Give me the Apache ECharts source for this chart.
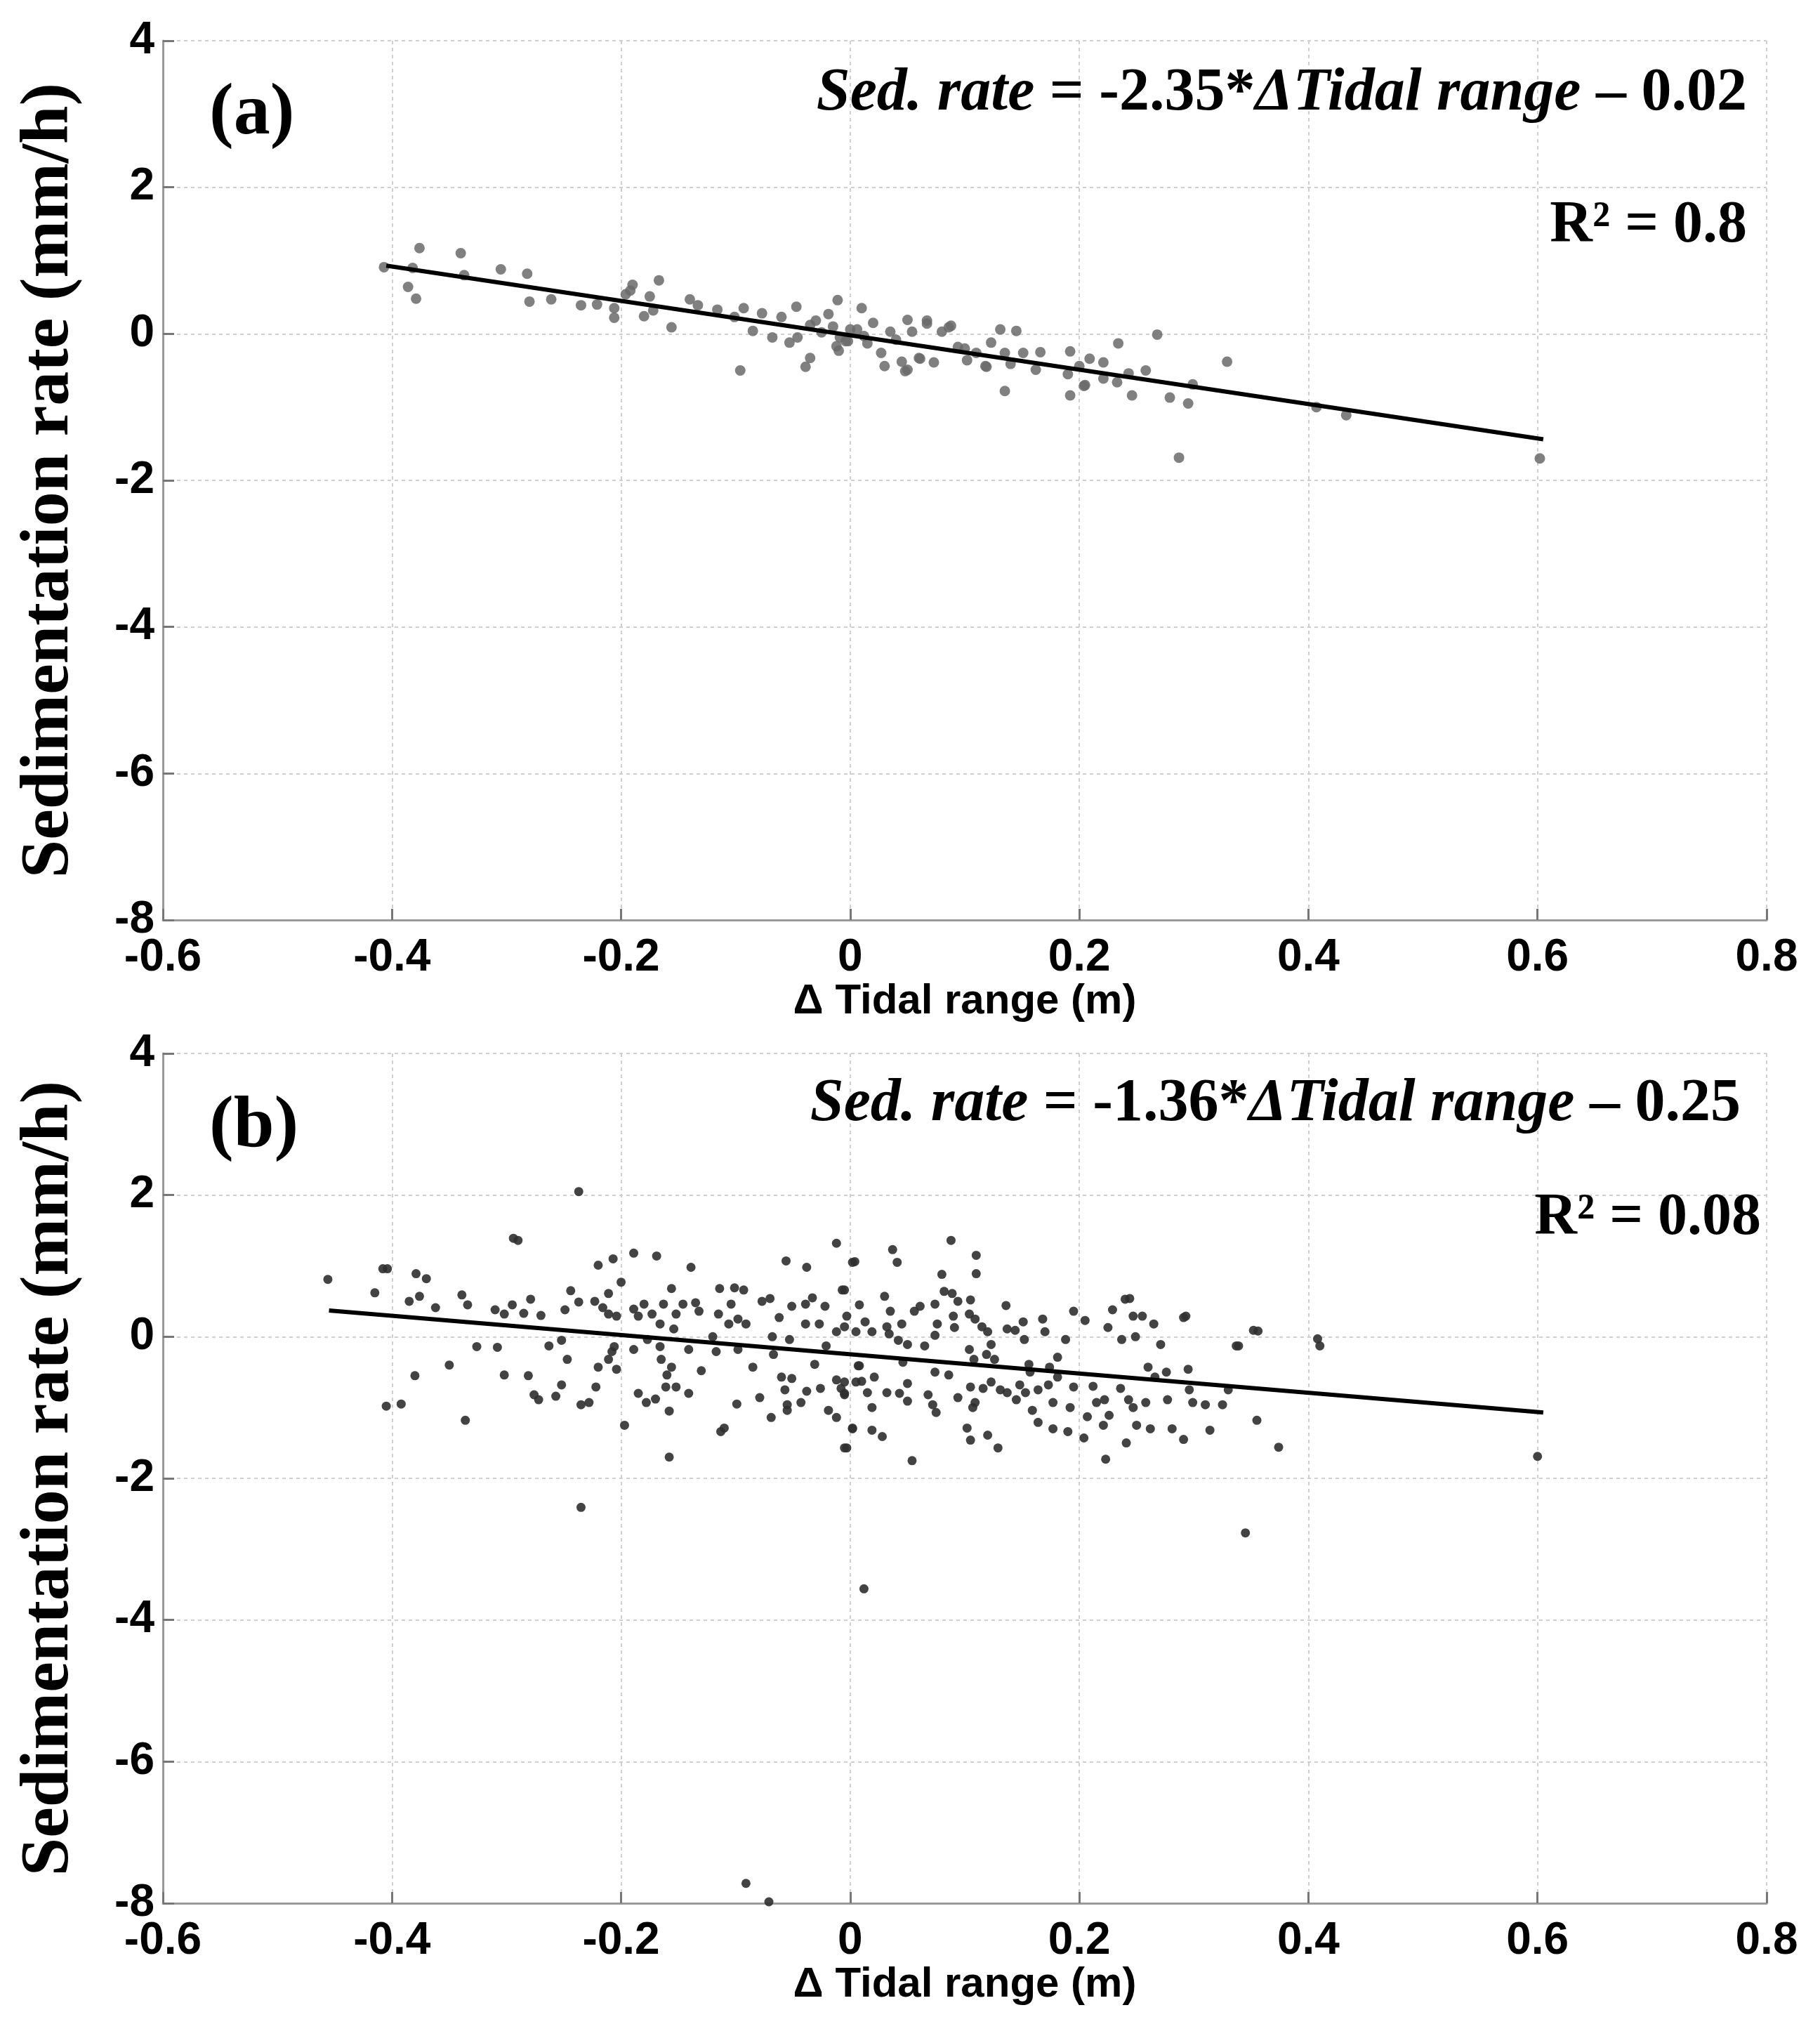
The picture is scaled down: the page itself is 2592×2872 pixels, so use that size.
<!DOCTYPE html>
<html>
<head>
<meta charset="utf-8">
<script src="https://cdn.jsdelivr.net/npm/echarts@6/dist/echarts.min.js"></script>
<style>
  html, body { margin: 0; padding: 0; background: #fff; }
  #chart { width: 2592px; height: 2872px; }
</style>
</head>
<body>
<div id="chart"></div>
<script>
// panel (a), [delta tidal range (m), sed. rate (mm/h)]
var pointsA = [
  [-0.407, 0.91], [-0.382, 0.90], [-0.376, 1.17], [-0.386, 0.64], [-0.379, 0.48],
  [-0.340, 1.10], [-0.337, 0.80], [-0.305, 0.88], [-0.282, 0.82], [-0.280, 0.44],
  [-0.261, 0.47], [-0.235, 0.39], [-0.221, 0.40], [-0.206, 0.22], [-0.206, 0.35],
  [-0.190, 0.67], [-0.192, 0.59], [-0.196, 0.54], [-0.175, 0.51], [-0.180, 0.24],
  [-0.172, 0.32], [-0.167, 0.73], [-0.156, 0.09], [-0.140, 0.47], [-0.133, 0.39],
  [-0.116, 0.33], [-0.096, -0.50], [-0.093, 0.35], [-0.101, 0.23], [-0.085, 0.04],
  [-0.077, 0.28], [-0.068, -0.05], [-0.060, 0.23], [-0.053, -0.12], [-0.047, 0.37],
  [-0.046, -0.05], [-0.035, -0.33], [-0.039, -0.45], [-0.035, 0.12], [-0.019, 0.27],
  [-0.011, 0.46], [-0.010, -0.23], [-0.004, -0.10], [-0.015, 0.10], [0.000, 0.06],
  [-0.012, -0.17], [-0.009, -0.05], [-0.002, -0.10], [0.010, 0.35], [0.006, 0.06],
  [0.015, -0.13], [0.020, 0.15], [0.027, -0.26], [0.030, -0.44], [0.035, 0.03],
  [0.045, -0.38], [0.050, -0.49], [0.050, 0.19], [0.054, 0.03], [0.061, -0.34],
  [0.067, 0.14], [0.073, -0.39], [0.080, 0.03], [0.088, 0.11], [0.094, -0.18],
  [0.102, -0.36], [0.110, -0.26], [0.119, -0.45], [0.123, -0.12], [0.131, 0.06],
  [0.145, 0.04], [0.135, -0.78], [0.135, -0.26], [0.140, -0.41], [0.151, -0.26],
  [0.162, -0.49], [0.166, -0.25], [0.192, -0.24], [0.190, -0.55], [0.192, -0.84],
  [0.204, -0.71], [0.200, -0.44], [0.209, -0.34], [0.221, -0.39], [0.221, -0.61],
  [0.234, -0.13], [0.233, -0.66], [0.243, -0.54], [0.246, -0.84], [0.258, -0.50],
  [0.268, -0.01], [0.279, -0.87], [0.295, -0.95], [0.299, -0.69], [0.287, -1.69],
  [0.329, -0.38], [0.407, -1.00], [0.433, -1.11], [0.602, -1.70], [0.067, 0.18],
  [0.086, 0.09], [0.048, -0.51], [0.060, -0.33], [0.118, -0.44], [0.205, -0.70],
  [-0.025, 0.02], [0.012, -0.03], [0.040, -0.08], [-0.030, 0.18], [0.100, -0.20]
];
var fitA = [[-0.405, 0.93], [0.605, -1.44]];

// panel (b)
var pointsB = [
  [-0.456, 0.81], [-0.408, 0.96], [-0.404, 0.96], [-0.415, 0.62], [-0.379, 0.89],
  [-0.370, 0.82], [-0.385, 0.50], [-0.376, 0.57], [-0.362, 0.41], [-0.339, 0.59],
  [-0.334, 0.45], [-0.310, 0.38], [-0.302, 0.32], [-0.295, 0.45], [-0.285, 0.33],
  [-0.279, 0.53], [-0.270, 0.30], [-0.294, 1.39], [-0.290, 1.36], [-0.249, 0.38],
  [-0.244, 0.65], [-0.237, 0.49], [-0.237, 2.05], [-0.220, 1.01], [-0.207, 1.10],
  [-0.189, 1.18], [-0.169, 1.14], [-0.139, 0.98], [-0.200, 0.77], [-0.211, 0.61],
  [-0.223, 0.50], [-0.216, 0.41], [-0.211, 0.32], [-0.204, 0.29], [-0.189, 0.39],
  [-0.185, 0.29], [-0.180, 0.46], [-0.173, 0.32], [-0.166, 0.18], [-0.163, 0.46],
  [-0.152, 0.32], [-0.146, 0.46], [-0.135, 0.48], [-0.132, 0.36], [-0.156, 0.68],
  [-0.154, 0.11], [-0.115, 0.32], [-0.114, 0.68], [-0.101, 0.69], [-0.093, 0.66],
  [-0.104, 0.46], [-0.106, 0.18], [-0.098, 0.25], [-0.091, 0.18], [-0.077, 0.50],
  [-0.070, 0.54], [-0.062, 0.27], [-0.051, 0.43], [-0.039, 0.46], [-0.033, 0.55],
  [-0.022, 0.43], [-0.007, 0.66], [-0.012, 1.32], [-0.056, 1.07], [-0.038, 0.98],
  [0.002, 1.05], [-0.039, 0.18], [-0.027, 0.18], [-0.012, 0.07], [-0.005, 0.14],
  [-0.326, -0.14], [-0.308, -0.15], [-0.263, -0.13], [-0.252, -0.05], [-0.350, -0.40],
  [-0.380, -0.55], [-0.405, -0.98], [-0.392, -0.95], [-0.336, -1.18], [-0.302, -0.54],
  [-0.281, -0.55], [-0.247, -0.32], [-0.220, -0.43], [-0.204, -0.46], [-0.208, -0.21],
  [-0.206, -0.14], [-0.211, -0.32], [-0.189, -0.18], [-0.177, -0.04], [-0.166, -0.14],
  [-0.165, -0.32], [-0.156, -0.43], [-0.160, -0.54], [-0.161, -0.71], [-0.152, -0.71],
  [-0.141, -0.80], [-0.141, -0.18], [-0.130, -0.48], [-0.117, -0.21], [-0.120, 0.00],
  [-0.098, -0.18], [-0.085, -0.43], [-0.068, 0.00], [-0.067, -0.25], [-0.053, -0.04],
  [-0.031, -0.39], [-0.021, -0.13], [0.007, -0.41], [-0.060, -0.57], [-0.051, -0.59],
  [-0.057, -0.75], [-0.038, -0.77], [-0.026, -0.73], [-0.012, -0.61], [-0.008, -0.73],
  [0.005, -0.64], [-0.005, -0.82], [-0.079, -0.86], [-0.099, -0.95], [-0.055, -0.96],
  [-0.055, -1.04], [-0.043, -0.93], [-0.069, -1.14], [-0.019, -1.04], [-0.012, -1.14],
  [0.002, -1.30], [-0.003, -1.57], [-0.110, -1.29], [-0.113, -1.34], [-0.158, -1.70],
  [-0.185, -0.80], [-0.178, -0.93], [-0.170, -0.88], [-0.158, -1.05], [-0.197, -1.25],
  [-0.235, -0.96], [-0.228, -0.93], [-0.222, -0.71], [-0.252, -0.68], [-0.257, -0.84],
  [-0.272, -0.89], [-0.276, -0.82], [-0.235, -2.41],
  [0.345, -2.77], [0.012, -3.56], [-0.091, -7.72], [-0.071, -7.98], [0.600, -1.69],
  [0.408, -0.03], [0.410, -0.13], [0.352, 0.09], [0.337, -0.13], [0.355, -1.18],
  [0.374, -1.56], [0.240, 0.53], [0.291, 0.27],
  [0.004, 1.06], [0.037, 1.23], [0.041, 1.05], [0.088, 1.36], [0.110, 1.15],
  [0.110, 0.89], [0.080, 0.88], [0.030, 0.57], [-0.005, 0.66], [0.008, 0.45],
  [-0.003, 0.29], [0.013, 0.21], [0.019, 0.07], [0.005, 0.07], [0.035, 0.36],
  [0.032, 0.14], [0.034, 0.04], [0.045, 0.18], [0.042, -0.05], [0.050, -0.11],
  [0.056, 0.36], [0.061, 0.43], [0.065, -0.13], [0.074, 0.46], [0.076, 0.18],
  [0.074, 0.02], [0.082, 0.64], [0.089, 0.61], [0.094, 0.50], [0.090, 0.29],
  [0.091, 0.13], [0.105, 0.52], [0.104, 0.32], [0.109, 0.25], [0.115, 0.14],
  [0.120, 0.07], [0.123, -0.11], [0.104, -0.18], [0.108, -0.32], [0.119, -0.25],
  [0.126, -0.32], [0.136, 0.44], [0.137, 0.11], [0.144, 0.09], [0.151, 0.21],
  [0.152, -0.04], [0.168, 0.25], [0.170, 0.07], [0.188, -0.04], [0.195, 0.36],
  [0.205, 0.23], [0.225, 0.13], [0.229, 0.38], [0.237, -0.04], [0.244, 0.54],
  [0.249, 0.00], [0.247, 0.29], [0.255, 0.29], [0.265, 0.18], [0.271, -0.11],
  [0.293, 0.29], [0.339, -0.13], [0.356, 0.08],
  [0.008, -0.41], [-0.005, -0.64], [-0.005, -0.80], [0.010, -0.63], [0.015, -0.79],
  [0.021, -0.57], [0.019, -1.00], [0.002, -1.29], [-0.005, -1.57], [0.019, -1.32],
  [0.028, -1.41], [0.032, -0.79], [0.046, -0.36], [0.043, -0.80], [0.050, -0.66],
  [0.050, -0.91], [0.054, -1.75], [0.068, -0.82], [0.074, -0.50], [0.072, -0.96],
  [0.075, -1.07], [0.086, -0.54], [0.094, -0.86], [0.102, -1.29], [0.105, -1.46],
  [0.105, -0.71], [0.107, -1.00], [0.109, -0.93], [0.116, -0.73], [0.120, -1.39],
  [0.129, -1.57], [0.123, -0.64], [0.131, -0.75], [0.137, -0.79], [0.145, -0.89],
  [0.148, -0.68], [0.153, -0.79], [0.156, -0.39], [0.159, -1.04], [0.157, -0.50],
  [0.164, -1.21], [0.164, -0.75], [0.173, -0.68], [0.174, -0.43], [0.177, -0.93],
  [0.177, -1.30], [0.181, -0.29], [0.181, -0.57], [0.190, -1.34], [0.192, -1.00],
  [0.195, -0.71], [0.204, -1.43], [0.207, -1.13], [0.212, -0.70], [0.215, -0.93],
  [0.221, -1.25], [0.223, -1.73], [0.222, -0.89], [0.226, -1.11], [0.236, -0.73],
  [0.241, -1.50], [0.243, -0.89], [0.247, -1.00], [0.250, -1.25], [0.258, -0.93],
  [0.262, -1.30], [0.260, -0.43], [0.266, -0.57], [0.276, -0.50], [0.277, -0.89],
  [0.281, -1.30], [0.291, -1.45], [0.295, -0.46], [0.296, -0.75], [0.299, -0.93],
  [0.310, -0.96], [0.314, -1.32], [0.325, -0.96], [0.330, -0.75]
];
var fitB = [[-0.455, 0.37], [0.605, -1.07]];

var xMin = -0.6, xMax = 0.8, xStep = 0.2;
var yMin = -8, yMax = 4, yStep = 2;

var chart = echarts.init(document.getElementById('chart'));

var tickFont = { fontFamily: 'Liberation Sans', fontWeight: 'bold', fontSize: 64, color: '#000' };
var gridLine = { show: true, lineStyle: { color: '#cfcfcf', width: 2, type: [5, 5] } };
var axisLine = { show: true, onZero: false, lineStyle: { color: '#9a9a9a', width: 3 } };
var axisTick = { show: true, inside: true, length: 16, lineStyle: { color: '#777', width: 3 } };

function xAxis(idx) {
  return {
    gridIndex: idx, type: 'value', min: xMin, max: xMax, interval: xStep,
    name: '\u0394 Tidal range (m)', nameLocation: 'middle', nameGap: 82,
    nameTextStyle: { fontFamily: 'Liberation Sans', fontWeight: 'bold', fontSize: 60, color: '#000' },
    axisLine: axisLine, axisTick: axisTick, splitLine: gridLine,
    axisLabel: Object.assign({ margin: 22, formatter: function (v) { return String(+v.toFixed(1)); } }, tickFont)
  };
}
function yAxis(idx) {
  return {
    gridIndex: idx, type: 'value', min: yMin, max: yMax, interval: yStep,
    name: 'Sedimentation rate (mm/h)', nameLocation: 'middle', nameGap: 112,
    nameTextStyle: { fontFamily: 'Liberation Serif', fontWeight: 'bold', fontSize: 98, color: '#000' },
    axisLine: axisLine, axisTick: axisTick, splitLine: gridLine,
    axisLabel: Object.assign({ margin: 12 }, tickFont)
  };
}

var eqStyle = {
  it: { fontFamily: 'Liberation Serif', fontWeight: 'bold', fontStyle: 'italic', fontSize: 86, fill: '#000' },
  up: { fontFamily: 'Liberation Serif', fontWeight: 'bold', fontSize: 86, fill: '#000' }
};

function label(x, y, text, size, align) {
  return {
    type: 'text', x: x, y: y, z: 10,
    style: {
      text: text, fontFamily: 'Liberation Serif', fontWeight: 'bold', fontSize: size,
      fill: '#000', align: align, verticalAlign: 'middle'
    }
  };
}
function equation(x, y, slope, icept) {
  return {
    type: 'text', x: x, y: y, z: 10,
    style: {
      text: '{it|Sed. rate\u00a0}{up|=\u00a0' + slope + '*}{it|\u0394Tidal range\u00a0}{up|\u2013\u00a0' + icept + '}',
      rich: eqStyle, align: 'right', verticalAlign: 'middle'
    }
  };
}

chart.setOption({
  backgroundColor: '#fff',
  animation: false,
  grid: [
    { left: 232, right: 76, top: 58, bottom: 1562 },
    { left: 232, right: 76, top: 1500, bottom: 162 }
  ],
  xAxis: [xAxis(0), xAxis(1)],
  yAxis: [yAxis(0), yAxis(1)],
  series: [
    {
      type: 'scatter', xAxisIndex: 0, yAxisIndex: 0, data: pointsA,
      symbolSize: 15, itemStyle: { color: '#6a6a6a', opacity: 0.85 }
    },
    {
      type: 'line', xAxisIndex: 0, yAxisIndex: 0, data: fitA,
      showSymbol: false, lineStyle: { color: '#000', width: 6 }, z: 3
    },
    {
      type: 'scatter', xAxisIndex: 1, yAxisIndex: 1, data: pointsB,
      symbolSize: 13, itemStyle: { color: '#2f2f2f', opacity: 0.9 }
    },
    {
      type: 'line', xAxisIndex: 1, yAxisIndex: 1, data: fitB,
      showSymbol: false, lineStyle: { color: '#000', width: 6 }, z: 3
    }
  ],
  graphic: [
    label(298, 163, '(a)', 104, 'left'),
    equation(2488, 134, '-2.35', '0.02'),
    label(2488, 322, 'R\u00b2 = 0.8', 84, 'right'),
    label(298, 1605, '(b)', 104, 'left'),
    equation(2479, 1573, '-1.36', '0.25'),
    label(2508, 1735, 'R\u00b2 = 0.08', 84, 'right')
  ]
});
</script>
</body>
</html>
